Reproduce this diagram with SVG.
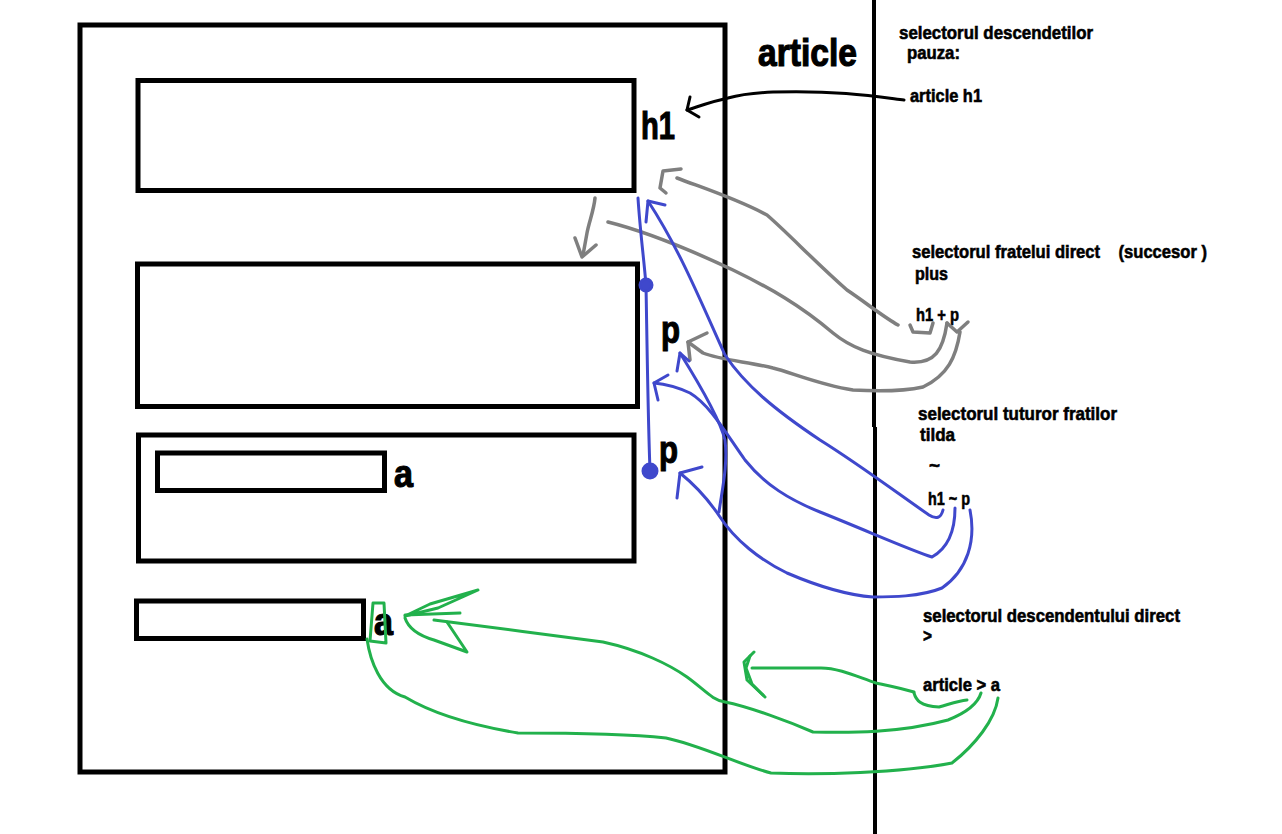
<svg xmlns="http://www.w3.org/2000/svg" width="1282" height="834" viewBox="0 0 1282 834">
<style>
.box{fill:none;stroke:#000;stroke-width:5}
.big{font-family:"Liberation Sans",Arial,sans-serif;font-weight:bold;font-size:39px;fill:#000;stroke:#000;stroke-width:1.2}
.t{font-family:"Liberation Sans",Arial,sans-serif;font-weight:bold;font-size:19px;fill:#000;stroke:#000;stroke-width:0.6;white-space:pre}
.k{fill:none;stroke:#000;stroke-width:3;stroke-linecap:round;stroke-linejoin:round}
.g{fill:none;stroke:#7f7f7f;stroke-width:3.5;stroke-linecap:round;stroke-linejoin:round}
.b{fill:none;stroke:#3f48cc;stroke-width:3;stroke-linecap:round;stroke-linejoin:round}
.gr{fill:none;stroke:#22b14c;stroke-width:3;stroke-linecap:round;stroke-linejoin:round}
</style>
<rect width="1282" height="834" fill="#fff"/>
<g id="article">
<rect class="box" x="80" y="25" width="645" height="747"/>
<text class="big" x="758" y="66" textLength="99" lengthAdjust="spacingAndGlyphs">article</text>
</g>
<g id="h1">
<rect class="box" x="138" y="80.5" width="496" height="110"/>
<text class="big" x="641" y="139" textLength="34" lengthAdjust="spacingAndGlyphs">h1</text>
</g>
<g id="p1">
<rect class="box" x="137.5" y="264" width="500" height="142.5"/>
<text class="big" x="661" y="343" textLength="19" lengthAdjust="spacingAndGlyphs">p</text>
</g>
<g id="p2">
<rect class="box" x="138.5" y="435" width="495.5" height="126"/>
<text class="big" x="659" y="463" textLength="19" lengthAdjust="spacingAndGlyphs">p</text>
</g>
<g id="a1">
<rect class="box" x="157.5" y="453" width="227" height="37.5"/>
<text class="big" x="394" y="487" textLength="19" lengthAdjust="spacingAndGlyphs">a</text>
</g>
<g id="a2">
<rect class="box" x="136.5" y="601" width="227" height="37.5"/>
<text class="big" x="374" y="635" textLength="19" lengthAdjust="spacingAndGlyphs">a</text>
</g>
<g id="divider">
<line x1="874" y1="0" x2="874" y2="427" stroke="#000" stroke-width="4"/>
<line x1="875" y1="427" x2="875" y2="834" stroke="#000" stroke-width="4"/>
</g>
<g id="notes">
<text class="t" x="899" y="39" textLength="194" lengthAdjust="spacingAndGlyphs">selectorul descendetilor</text>
<text class="t" x="907" y="59" textLength="53" lengthAdjust="spacingAndGlyphs">pauza:</text>
<text class="t" x="910" y="102" textLength="72" lengthAdjust="spacingAndGlyphs">article h1</text>
<text class="t" x="912" y="258" textLength="295" lengthAdjust="spacingAndGlyphs" xml:space="preserve">selectorul fratelui direct    (succesor )</text>
<text class="t" x="915" y="280" textLength="33" lengthAdjust="spacingAndGlyphs">plus</text>
<text class="t" x="916" y="321" textLength="43" lengthAdjust="spacingAndGlyphs">h1 + p</text>
<text class="t" x="918" y="420" textLength="199" lengthAdjust="spacingAndGlyphs">selectorul tuturor fratilor</text>
<text class="t" x="920" y="441" textLength="35" lengthAdjust="spacingAndGlyphs">tilda</text>
<text class="t" x="929" y="472" textLength="11" lengthAdjust="spacingAndGlyphs">~</text>
<text class="t" x="928" y="505" textLength="42" lengthAdjust="spacingAndGlyphs">h1 ~ p</text>
<text class="t" x="923" y="622" textLength="257" lengthAdjust="spacingAndGlyphs">selectorul descendentului direct</text>
<text class="t" x="923" y="642" textLength="9" lengthAdjust="spacingAndGlyphs">&gt;</text>
<text class="t" x="923" y="691" textLength="77" lengthAdjust="spacingAndGlyphs">article &gt; a</text>
</g>
<g id="connectors">
<path class="k" d="M904 100 C880 97 840 90 773 92 C750 93 735 96 728 98 C710 102 700 106 687 110"/>
<path class="k" d="M690 97 L687 110 L699 117"/>
<path class="g" d="M681 169 L663 171 L660 188 L666 193"/>
<path class="g" d="M677 178 C700 187 735 198 767 215 C790 235 815 262 847 290 C865 302 885 318 898 325"/>
<path class="g" d="M910 325 L913 332 L930 333 L933 323"/>
<path class="g" d="M595 198 C594 210 589 222 587 233 L583 255"/>
<path class="g" d="M575 238 L582 257 L596 245"/>
<path class="g" d="M608 222 C640 230 680 245 733 270 C770 288 800 305 833 333 C850 347 870 355 910 362 C935 364 943 350 947 323"/>
<path class="g" d="M947 323 L957 332 L968 322"/>
<path class="g" d="M960 332 C956 357 948 375 923 387 C900 392 870 391 853 390 C820 385 790 372 773 368 C750 362 720 360 703 353 L688 342"/>
<path class="g" d="M707 333 L688 342 L690 360"/>
<path class="b" d="M638 198 C640 230 644 260 646 285 C647 340 648 420 650 470"/>
<circle cx="646" cy="285" r="6" fill="#3f48cc" stroke="#3f48cc" stroke-width="3"/>
<circle cx="650" cy="471" r="7" fill="#3f48cc" stroke="#3f48cc" stroke-width="3"/>
<path class="b" d="M943 510 Q940 522 929 515 C900 495 860 465 820 440 C775 410 745 385 725 355 C700 300 680 250 648 201"/>
<path class="b" d="M665 205 L648 201 L646 222"/>
<path class="b" d="M955 508 C955 530 948 548 932 557 C910 550 870 532 820 512 C790 500 765 485 745 460 C725 432 710 405 690 393 C675 386 665 384 654 383"/>
<path class="b" d="M668 375 L654 383 L658 400"/>
<path class="b" d="M719 512 C722 490 728 465 725 440 C720 420 700 385 680 353"/>
<path class="b" d="M677 371 L680 353 L689 361"/>
<path class="b" d="M970 510 C976 540 968 570 942 588 C920 597 890 597 873 597 C845 595 815 585 787 573 C760 560 735 540 720 517 C710 502 695 485 680 473"/>
<path class="b" d="M702 467 L680 473 L677 498"/>
<path class="gr" d="M373 603 L384 603 L386 643 L370 641 Z"/>
<path class="gr" d="M478 590 L430 604 L405 616 L438 608 Z"/>
<path class="gr" d="M405 615 L460 613"/>
<path class="gr" d="M405 618 Q410 633 434 640 L467 652 L447 622"/>
<path class="gr" d="M367 639 C370 660 380 690 405 697 C430 712 470 725 518 733 C560 733 620 733 666 738 C700 745 740 765 771 773 C820 775 900 773 952 763 C975 745 995 720 998 698"/>
<path class="gr" d="M434 620 C470 625 560 636 603 642 C640 650 670 665 687 677 C705 690 712 700 725 702 C750 707 790 722 813 732 C850 733 900 733 948 720 C968 712 978 703 981 693"/>
<path class="gr" d="M914 692 C900 688 890 686 876 683 C860 678 840 668 821 668 C800 668 770 668 752 668"/>
<path class="gr" d="M754 652 L744 662 L747 680 L765 697"/>
<path class="gr" d="M750 656 L746 668 L752 684 L763 695"/>
<path class="gr" d="M914 693 C916 700 920 706 939 707 C950 704 958 701 967 700"/>
</g>
</svg>
